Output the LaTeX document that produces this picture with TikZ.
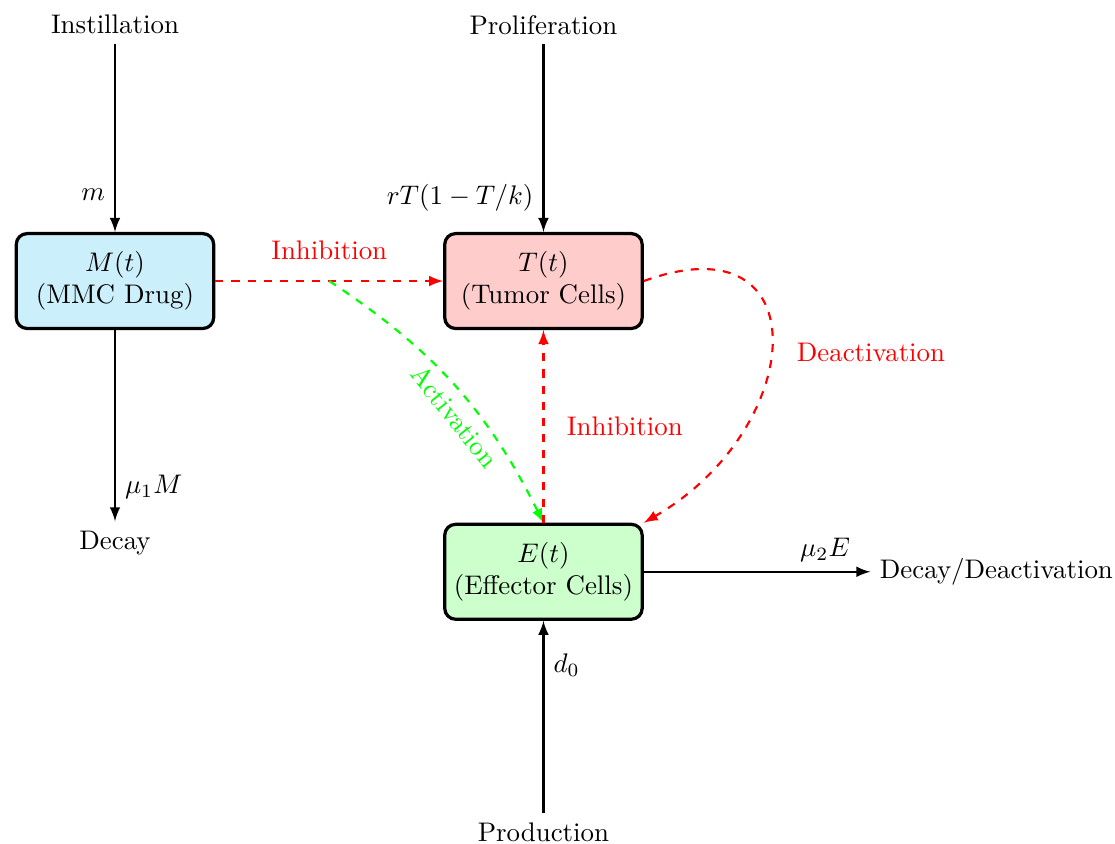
\documentclass[tikz,border=0pt]{standalone}
\usepackage{amsmath}
\usepackage{tikz}
\usetikzlibrary{calc}

\tikzset{
  compartment/.style={draw, very thick, rounded corners, align=center, minimum width=2.58cm, minimum height=1.24cm},
  flow/.style={->, >=latex, thick},
  effect/.style={->, >=latex, thick, dashed},
}

\begin{document}
\begin{tikzpicture}

\useasboundingbox (-1.503,-7.346) rectangle (13.07,3.673);


% compartments
\node (M) at (0, 0) [compartment, fill=cyan!20] {$M(t)$\\(MMC Drug)};
\node (T) at (5.6, 0) [compartment, fill=red!20] {$T(t)$\\(Tumor Cells)};
\node (E) at (5.6, -3.8) [compartment, fill=green!20] {$E(t)$\\(Effector Cells)};



\node (inst) at (0, 3.35) {Instillation};
\node (prolif) at (5.6, 3.35) {Proliferation};
\node (decay) at (0, -3.42) {Decay};
\node (prod) at (5.6, -7.2) {Production};
\node (decdeact) at (11.52, -3.8) {Decay/Deactivation};



% flows
\draw [flow] (inst) -- node [left, pos=0.8] {$m$} (M);
\draw [flow] (prolif) -- node [left, pos=0.82] {$rT(1-T/k)$} (T);
\draw [flow] (M) -- node [right, pos=0.82] {$\mu_1 M$} (decay);
\draw [flow] (prod) -- node [right, pos=0.77] {$d_0$} (E);
\draw [flow] (E) -- node [above, pos=0.8] {$\mu_2 E$} (decdeact);


% interactions
\draw [effect, red] (M) -- node [above=4pt] {Inhibition} coordinate [midway] (mid) (T);
\draw [effect, green] (mid) to [bend left=15] node [below, sloped, pos=0.58] {Activation} (E.north);
\draw [effect, red] (E) -- node [right=5pt] {Inhibition} (T);
\draw [effect, red] (T.east) to [out=20, in=30, looseness=2] node [pos=0.53, right=6pt] {Deactivation} (E.north east);


\end{tikzpicture}
\end{document}
